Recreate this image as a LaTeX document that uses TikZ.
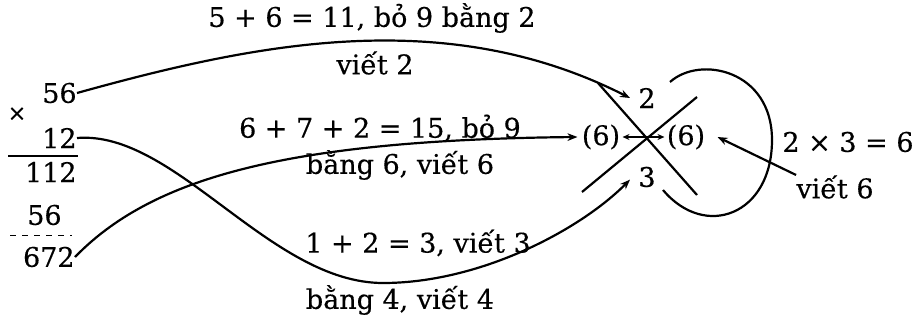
\documentclass[tikz,border=0pt]{standalone}
\usepackage{fontspec}
\setmainfont{DejaVu Serif}
\newfontfamily\medfont[FakeBold=0.4]{DejaVu Serif}
\usetikzlibrary{arrows.meta}
\begin{document}
\begin{tikzpicture}[x=0.5pt,y=-0.5pt,
  lbl/.style={inner sep=0pt,font=\medfont\fontsize{13.5}{15}\selectfont},
  num/.style={lbl,anchor=east},
  conn/.style={line width=1.1pt,-{Stealth[length=5pt,width=3.8pt]}},
  plain/.style={line width=1.1pt},
  tip/.style={line width=0.8pt,-{Stealth[length=3.5pt,width=3pt]}}]
\useasboundingbox (0,0) rectangle (922,321);
% left column
\node[num] (a56) at (77,93) {56};
\node[lbl] (times) at (17,114) {\fontsize{11}{12}\selectfont ×};
\node[num] (a12) at (77,138) {12};
\node[num] (a112) at (77,172) {112};
\node[num] (b56) at (62,215) {56};
\node[num] (a672) at (75,257) {672};
\coordinate (r1a) at (8,156); \coordinate (r1b) at (78,156);
\draw[plain] (r1a) -- (r1b);
\coordinate (r2a) at (10,235); \coordinate (r2b) at (72,235);
\draw[line width=0.5pt,dashed] (r2a) -- (r2b);
% right cross
\node[lbl] (two) at (647,98) {2};
\node[lbl] (three) at (647,177) {3};
\node[lbl] (s1) at (601,137) {(6)};
\node[lbl] (s2) at (686,137) {(6)};
\coordinate (X) at (647,137);
\coordinate (c1a) at (598,83); \coordinate (c1b) at (697,195);
\coordinate (c2a) at (582,192); \coordinate (c2b) at (697,97);
\draw[plain] (c1a) -- (c1b);
\draw[plain] (c2a) -- (c2b);
\draw[tip] (X) -- ([xshift=1pt]s1.east);
\draw[tip] (X) -- ([xshift=-1pt]s2.west);
% loop
\coordinate (L1) at (670,82); \coordinate (L2) at (772,140); \coordinate (L3) at (663,190);
\draw[plain] (L1) .. controls (700,55) and (772,70) .. (L2)
  .. controls (772,215) and (705,240) .. (L3);
% right labels
\node[lbl] (eq) at (848,142) {2 × 3 = 6};
\node[lbl] (v6r) at (835,187) {viết 6};
\draw[conn] (v6r.north west) -- ([xshift=6pt]s2.east);
% curves
\draw[conn] (a56.east) .. controls (250,45) and (443,3) .. ([xshift=-4pt]two.west);
\draw[conn] (a672.east) .. controls (150,180) and (280,140) .. ([xshift=-2pt]s1.west);
\draw[conn] (a12.east) .. controls (175,130) and (270,283) .. (383,283)
  .. controls (480,283) and (580,230) .. ([xshift=-4pt,yshift=4pt]three.south west);
% curve labels
\node[lbl] (t1) at (372,18) {5 + 6 = 11, bỏ 9 bằng 2};
\node[lbl] (t2) at (375,63) {viết 2};
\node[lbl] (t3) at (380,128) {6 + 7 + 2 = 15, bỏ 9};
\node[lbl] (t4) at (400,165) {bằng 6, viết 6};
\node[lbl] (t5) at (418,243) {1 + 2 = 3, viết 3};
\node[lbl] (t6) at (400,300) {bằng 4, viết 4};
\end{tikzpicture}
\end{document}
